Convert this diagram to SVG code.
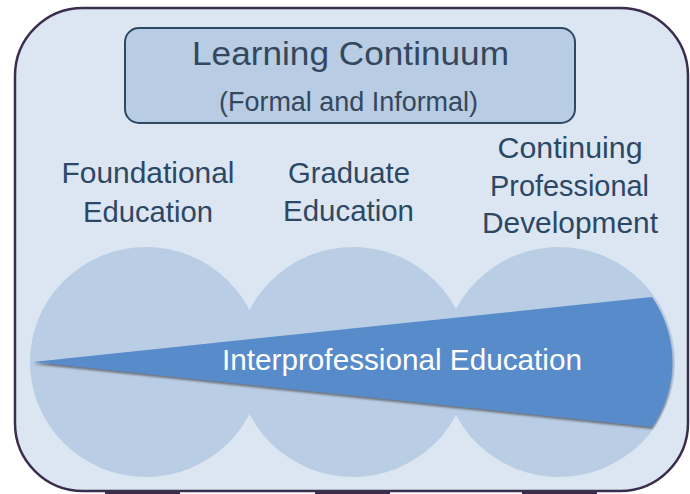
<svg xmlns="http://www.w3.org/2000/svg" width="690" height="494" viewBox="0 0 690 494">
  <defs>
    <filter id="shadow" x="-5%" y="-20%" width="110%" height="140%">
      <feDropShadow dx="0" dy="2" stdDeviation="1.2" flood-color="#4a4a4a" flood-opacity="0.7"/>
    </filter>
  </defs>
  <style>
    .lbl { font-family: "Liberation Sans", Arial, sans-serif; font-size: 29.5px; fill: #2c4865; text-anchor: middle; }
    .title { font-family: "Liberation Sans", Arial, sans-serif; fill: #35475c; text-anchor: middle; }
    .circle { fill: #b9cde5; }
  </style>
  <rect width="690" height="494" fill="#ffffff"/>
  <g id="frame">
    <rect x="15" y="8" width="673" height="483" rx="68" ry="68" fill="#dbe6f2" stroke="#3b2e4d" stroke-width="2.5"/>
    <rect x="105" y="490" width="75" height="4" fill="#3b2e4d"/>
    <rect x="315" y="490" width="75" height="4" fill="#3b2e4d"/>
    <rect x="522" y="490" width="75" height="4" fill="#3b2e4d"/>
  </g>
  <g id="learning-continuum">
    <rect x="125" y="28" width="450" height="95" rx="14" ry="14" fill="#b8cce4" stroke="#2e4a62" stroke-width="2"/>
    <text class="title" x="350.5" y="65" font-size="33.5" textLength="317" lengthAdjust="spacingAndGlyphs">Learning Continuum</text>
    <text class="title" x="348.5" y="111" font-size="27" textLength="259" lengthAdjust="spacingAndGlyphs">(Formal and Informal)</text>
  </g>
  <g id="circles">
    <ellipse id="circle-foundational" class="circle" cx="146" cy="362" rx="116" ry="115"/>
    <ellipse id="circle-graduate" class="circle" cx="353" cy="362" rx="116" ry="115"/>
    <ellipse id="circle-cpd" class="circle" cx="559" cy="362" rx="116" ry="115"/>
  </g>
  <g id="label-foundational">
    <text class="lbl" x="148" y="183" textLength="173" lengthAdjust="spacingAndGlyphs">Foundational</text>
    <text class="lbl" x="148" y="222" textLength="130" lengthAdjust="spacingAndGlyphs">Education</text>
  </g>
  <g id="label-graduate">
    <text class="lbl" x="349" y="183" textLength="122" lengthAdjust="spacingAndGlyphs">Graduate</text>
    <text class="lbl" x="348.5" y="221" textLength="131" lengthAdjust="spacingAndGlyphs">Education</text>
  </g>
  <g id="label-cpd">
    <text class="lbl" x="570" y="158" textLength="145" lengthAdjust="spacingAndGlyphs">Continuing</text>
    <text class="lbl" x="569.5" y="196" textLength="159" lengthAdjust="spacingAndGlyphs">Professional</text>
    <text class="lbl" x="570" y="233" textLength="176" lengthAdjust="spacingAndGlyphs">Development</text>
  </g>
  <g id="interprofessional-education">
    <path d="M 33 362 L 652 297 A 116 115 0 0 1 652 427 Z" fill="#588bca" filter="url(#shadow)"/>
    <text x="402" y="370" font-family="'Liberation Sans', Arial, sans-serif" font-size="29" fill="#ffffff" text-anchor="middle" textLength="360" lengthAdjust="spacingAndGlyphs">Interprofessional Education</text>
  </g>
</svg>
